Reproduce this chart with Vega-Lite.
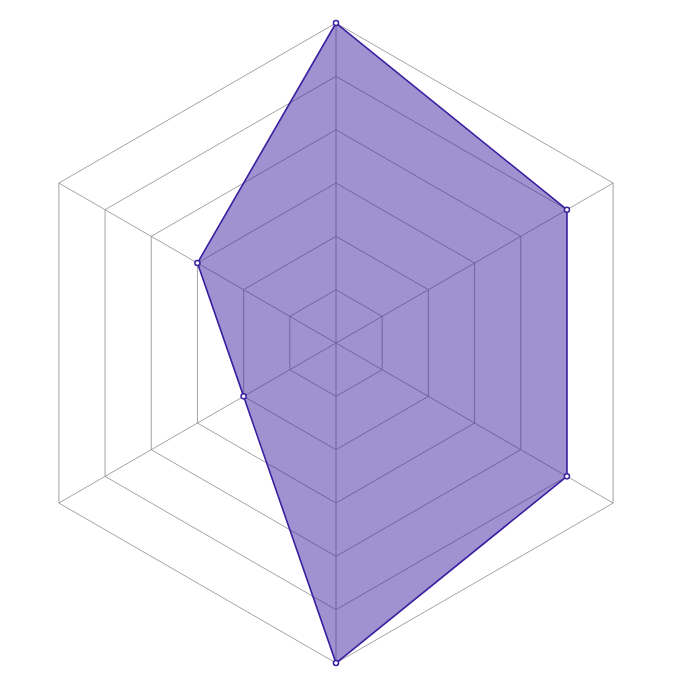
{
  "$schema": "https://vega.github.io/schema/vega-lite/v6.json",
  "width": 688,
  "height": 688,
  "padding": 0,
  "autosize": {"type": "fit", "contains": "padding"},
  "config": {"view": {"stroke": null}},
  "datasets": {
    "scores": [
      {"axis": 0, "value": 6},
      {"axis": 1, "value": 5},
      {"axis": 2, "value": 5},
      {"axis": 3, "value": 6},
      {"axis": 4, "value": 2},
      {"axis": 5, "value": 3}
    ],
    "grid": [
      {"axis": 0, "value": 1}, {"axis": 1, "value": 1}, {"axis": 2, "value": 1}, {"axis": 3, "value": 1}, {"axis": 4, "value": 1}, {"axis": 5, "value": 1},
      {"axis": 0, "value": 2}, {"axis": 1, "value": 2}, {"axis": 2, "value": 2}, {"axis": 3, "value": 2}, {"axis": 4, "value": 2}, {"axis": 5, "value": 2},
      {"axis": 0, "value": 3}, {"axis": 1, "value": 3}, {"axis": 2, "value": 3}, {"axis": 3, "value": 3}, {"axis": 4, "value": 3}, {"axis": 5, "value": 3},
      {"axis": 0, "value": 4}, {"axis": 1, "value": 4}, {"axis": 2, "value": 4}, {"axis": 3, "value": 4}, {"axis": 4, "value": 4}, {"axis": 5, "value": 4},
      {"axis": 0, "value": 5}, {"axis": 1, "value": 5}, {"axis": 2, "value": 5}, {"axis": 3, "value": 5}, {"axis": 4, "value": 5}, {"axis": 5, "value": 5},
      {"axis": 0, "value": 6}, {"axis": 1, "value": 6}, {"axis": 2, "value": 6}, {"axis": 3, "value": 6}, {"axis": 4, "value": 6}, {"axis": 5, "value": 6}
    ]
  },
  "encoding": {
    "x": {"field": "px", "type": "quantitative", "axis": null, "scale": {"domain": [-1.05, 1.1], "nice": false, "zero": false}},
    "y": {"field": "py", "type": "quantitative", "axis": null, "scale": {"domain": [-1.078, 1.072], "nice": false, "zero": false}}
  },
  "layer": [
    {
      "data": {"name": "grid"},
      "transform": [
        {"calculate": "datum.axis * PI / 3", "as": "angle"},
        {"calculate": "datum.value / 6 * sin(datum.angle)", "as": "px"},
        {"calculate": "datum.value / 6 * cos(datum.angle)", "as": "py"}
      ],
      "mark": {"type": "line", "interpolate": "linear-closed", "stroke": "#8c8c8c", "strokeWidth": 0.8},
      "encoding": {
        "detail": {"field": "value"},
        "order": {"field": "axis"}
      }
    },
    {
      "data": {"name": "grid"},
      "transform": [
        {"filter": "datum.value == 6"},
        {"calculate": "datum.axis * PI / 3", "as": "angle"},
        {"calculate": "sin(datum.angle)", "as": "px"},
        {"calculate": "cos(datum.angle)", "as": "py"}
      ],
      "mark": {"type": "rule", "stroke": "#8c8c8c", "strokeWidth": 0.8},
      "encoding": {
        "x2": {"datum": 0},
        "y2": {"datum": 0}
      }
    },
    {
      "data": {"name": "scores"},
      "transform": [
        {"calculate": "datum.axis * PI / 3", "as": "angle"},
        {"calculate": "datum.value / 6 * sin(datum.angle)", "as": "px"},
        {"calculate": "datum.value / 6 * cos(datum.angle)", "as": "py"}
      ],
      "layer": [
        {
          "mark": {"type": "line", "interpolate": "linear-closed", "stroke": "#3a20a0", "strokeWidth": 1.6, "fill": "#3a20a0", "fillOpacity": 0.49},
          "encoding": {"order": {"field": "axis"}}
        },
        {
          "mark": {"type": "point", "shape": "circle", "size": 26, "filled": true, "fill": "white", "stroke": "#3a20a0", "strokeWidth": 1.5, "opacity": 1}
        }
      ]
    }
  ]
}
